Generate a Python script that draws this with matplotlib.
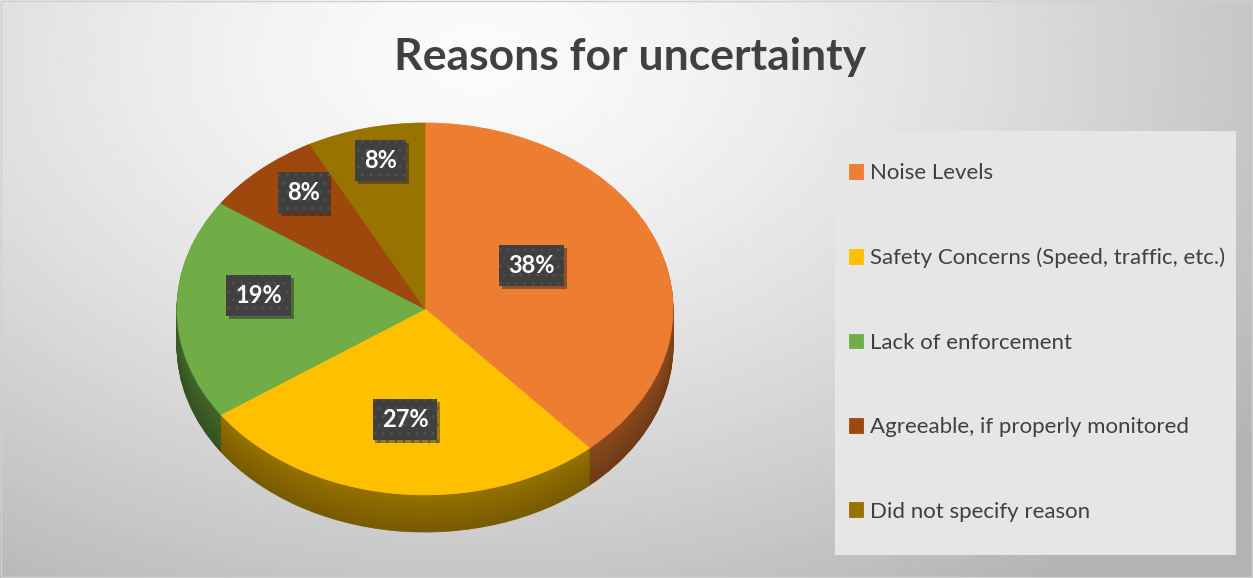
import matplotlib
matplotlib.use("Agg")
import matplotlib.pyplot as plt
import numpy as np
from matplotlib import patheffects
from matplotlib.colors import to_rgb
from matplotlib.patches import Rectangle

plt.rcParams['font.family'] = ['Lato', 'DejaVu Sans']
plt.rcParams['hatch.linewidth'] = 0.8

title = "Reasons for uncertainty"
reasons = ["Noise Levels", "Safety Concerns (Speed, traffic, etc.)", "Lack of enforcement",
           "Agreeable, if properly monitored", "Did not specify reason"]
counts = [10, 7, 5, 2, 2]
colors = ["#ED7D31", "#FFC000", "#70AD47", "#9E480E", "#997300"]

W, H = 1253, 578
fig = plt.figure(figsize=(W / 100, H / 100), dpi=100)

# soft grey background, light near the title, darker towards the right
bg = fig.add_axes([0, 0, 1, 1], zorder=-10)
yy, xx = np.mgrid[0:1:300j, 0:1:600j]
dist = np.sqrt(((xx - 0.38) * 1.3) ** 2 + ((yy - 0.1) * 0.9) ** 2)
shade = 0.985 - 0.28 * np.clip(dist, 0, 1) ** 1.4
bg.imshow(shade, cmap='gray', vmin=0, vmax=1, extent=[0, 1, 0, 1], aspect='auto', origin='upper')
bg.axis('off')
fig.patches.append(Rectangle((0.001, 0.002), 0.998, 0.996, transform=fig.transFigure,
                             fill=False, ec='#D0D0D0', lw=1))


def edge_like_face(ws):
    for w in ws:
        w.set_edgecolor(w.get_facecolor())
        w.set_linewidth(0.6)


# pie: top face is an ellipse, side built from stacked darker layers
depth = 0.2
ax = fig.add_axes([177 / W, (H - 532) / H, 496 / W, 409 / H])
n_layers = 40
for k in range(n_layers):
    off = -depth * (1 - k / n_layers)
    f = 0.47 + 0.12 * k / n_layers
    dark = [tuple(c * f for c in to_rgb(col)) for col in colors]
    ws, _ = ax.pie(counts, colors=dark, startangle=90, counterclock=False, center=(0, off))
    edge_like_face(ws)
wedges, _ = ax.pie(counts, colors=colors, startangle=90, counterclock=False)
edge_like_face(wedges)
ax.set_aspect('auto')
ax.set_xlim(-1, 1)
ax.set_ylim(-1 - depth, 1)

# data labels
total = sum(counts)
label_r = [0.46, 0.67, 0.67, 0.74, 0.75]
label_dy = 0.07
for w, c, r in zip(wedges, counts, label_r):
    mid = np.deg2rad((w.theta1 + w.theta2) / 2)
    t = ax.text(r * np.cos(mid), r * np.sin(mid) + label_dy, f"{round(100 * c / total)}%",
                ha='center', va='center', color='white', fontsize=17, fontweight='bold',
                bbox=dict(boxstyle='square,pad=0.38', fc='#404040', ec='#525252', lw=0, hatch='..'))
    t.get_bbox_patch().set_path_effects([patheffects.SimplePatchShadow(offset=(2, -2), alpha=0.4),
                                         patheffects.Normal()])

fig.text(630 / W, 1 - 70 / H, title, ha='center', va='baseline', fontsize=32,
         fontweight='bold', color='#404040')

# legend
fig.patches.append(Rectangle((835 / W, 1 - 555 / H), 401 / W, 424 / H, transform=fig.transFigure,
                             fc='#E6E6E6', ec='none', zorder=0))
fig.legend(wedges, reasons, loc='center left', bbox_to_anchor=(849 / W, 1 - 342.5 / H),
           frameon=False, fontsize=16, labelcolor='#404040', handlelength=0.65, handleheight=0.65,
           handletextpad=0.3, labelspacing=2.9, borderpad=0, borderaxespad=0)

fig.savefig("out.png", dpi=100)
